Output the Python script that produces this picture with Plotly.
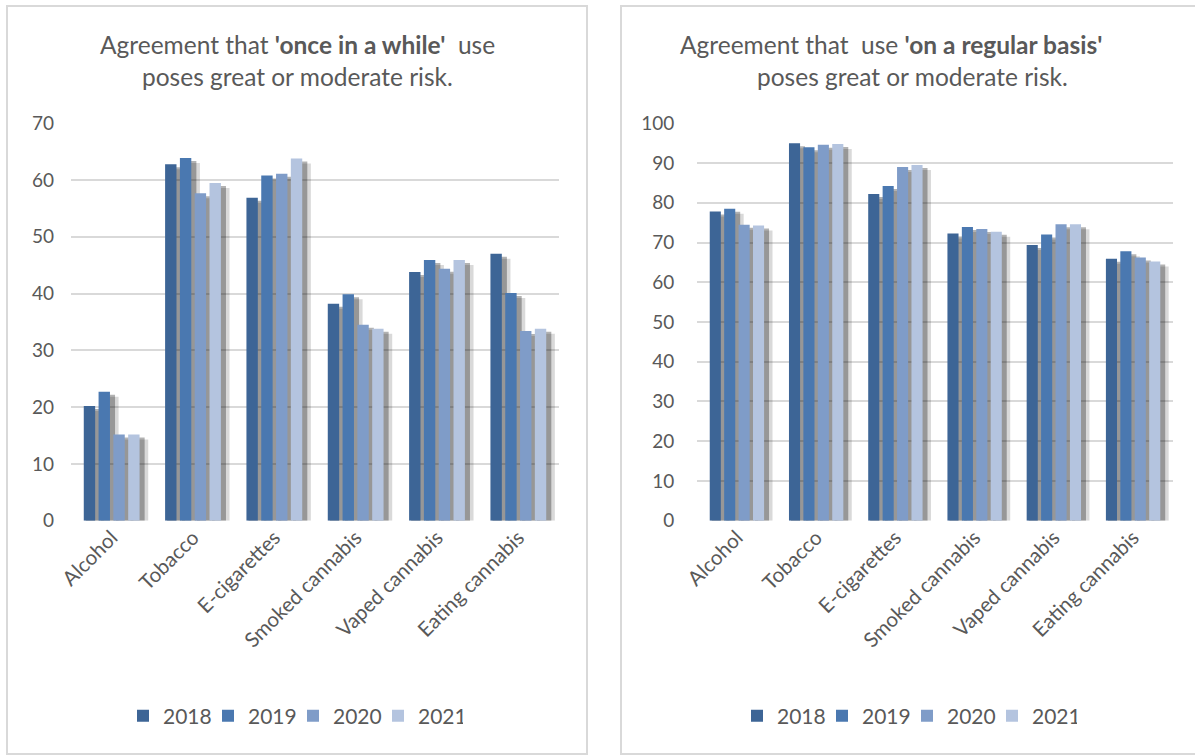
import plotly.graph_objects as go

# ---- data -------------------------------------------------------------
categories = ["Alcohol", "Tobacco", "E-cigarettes", "Smoked cannabis",
              "Vaped cannabis", "Eating cannabis"]
years = ["2018", "2019", "2020", "2021"]

# agreement that 'once in a while' use poses great or moderate risk (%)
once_2018 = [20.2, 62.8, 56.9, 38.2, 43.8, 47.0]
once_2019 = [22.7, 63.9, 60.8, 39.9, 45.9, 40.1]
once_2020 = [15.2, 57.7, 61.1, 34.5, 44.4, 33.4]
once_2021 = [15.2, 59.5, 63.8, 33.8, 45.9, 33.8]

# agreement that use 'on a regular basis' poses great or moderate risk (%)
regular_2018 = [77.8, 95.0, 82.2, 72.3, 69.4, 65.9]
regular_2019 = [78.5, 94.0, 84.2, 73.9, 72.0, 67.8]
regular_2020 = [74.5, 94.6, 89.0, 73.4, 74.6, 66.2]
regular_2021 = [74.3, 94.8, 89.5, 72.7, 74.6, 65.2]

once_ticks = [0, 10, 20, 30, 40, 50, 60, 70]
regular_ticks = [0, 10, 20, 30, 40, 50, 60, 70, 80, 90, 100]

# ---- styling ----------------------------------------------------------
W, H = 1195, 755
FONT = "Lato"
TEXT = "#595959"
GRID = "#D9D9D9"
colors = ["#3D6596", "#4A78B0", "#7F9CC8", "#B4C4DF"]

BAR_W = 0.14      # bar width in category units
PITCH = 0.182     # distance between neighbouring bars of a group
START = -(3 * PITCH + BAR_W) / 2
CAT_PX = 80.0     # approx. pixels per category, used for the shadow offsets


def px(x):
    return x / W


def py(y):
    return 1 - y / H


fig = go.Figure()


def add_panel(series, xa, ya, legend, unit_px):
    """Bars with a soft drop shadow; unit_px = pixels per value unit."""
    # shadows first so every bar sits above all of them
    for k, vals in enumerate(series):
        off = START + k * PITCH
        fig.add_trace(go.Bar(
            x=categories, y=[v - 5 / unit_px for v in vals],
            offset=off + 2 / CAT_PX, width=BAR_W + 6.5 / CAT_PX,
            marker=dict(color="rgba(0,0,0,0.15)", line_width=0),
            xaxis=xa, yaxis=ya, showlegend=False, hoverinfo="skip"))
        fig.add_trace(go.Bar(
            x=categories, y=[v - 3 / unit_px for v in vals],
            offset=off + 2 / CAT_PX, width=BAR_W + 3 / CAT_PX,
            marker=dict(color="rgba(0,0,0,0.3)", line_width=0),
            xaxis=xa, yaxis=ya, showlegend=False, hoverinfo="skip"))
    for k, vals in enumerate(series):
        fig.add_trace(go.Bar(
            x=categories, y=vals, name=years[k], offset=START + k * PITCH,
            width=BAR_W, marker=dict(color=colors[k], line_width=0),
            xaxis=xa, yaxis=ya, legend=legend))
    # empty, transparent entry that leaves room after the last legend label
    fig.add_trace(go.Bar(
        x=[], y=[], name=" ", marker=dict(color="rgba(0,0,0,0)"),
        xaxis=xa, yaxis=ya, legend=legend, hoverinfo="skip"))


add_panel([once_2018, once_2019, once_2020, once_2021], "x", "y", "legend",
          (520.7 - 123.3) / 70)
add_panel([regular_2018, regular_2019, regular_2020, regular_2021], "x2", "y2",
          "legend2", (520.7 - 123.3) / 100)

ydom = [py(520.7), py(123.3)]
num_font = dict(family=FONT, size=19, color=TEXT)
cat_font = dict(family=FONT, size=20.5, color=TEXT)
legend_font = dict(family=FONT, size=21, color=TEXT)

fig.update_layout(
    width=W, height=H,
    margin=dict(l=0, r=0, t=0, b=0, autoexpand=False),
    paper_bgcolor="white", plot_bgcolor="white",
    barmode="overlay",
    font=dict(family=FONT, color=TEXT),
    xaxis=dict(domain=[px(71), px(559)], anchor="y", tickangle=-45,
               tickfont=cat_font, showgrid=False, showline=False,
               zeroline=False, ticks=""),
    yaxis=dict(domain=ydom, anchor="x", range=[0, 70], tickvals=once_ticks,
               tickfont=num_font, showgrid=True, gridcolor=GRID, gridwidth=1.6,
               zeroline=False, showline=False, ticks="", ticklabelstandoff=16),
    xaxis2=dict(domain=[px(697.3), px(1172.7)], anchor="y2", tickangle=-45,
                tickfont=cat_font, showgrid=False, showline=False,
                zeroline=False, ticks=""),
    yaxis2=dict(domain=ydom, anchor="x2", range=[0, 100], tickvals=regular_ticks,
                tickfont=num_font, showgrid=True, gridcolor=GRID, gridwidth=1.6,
                zeroline=False, showline=False, ticks="", ticklabelstandoff=22),
    legend=dict(orientation="h", x=px(293), y=py(716), xanchor="center",
                yanchor="middle", font=legend_font, bgcolor="rgba(0,0,0,0)",
                itemwidth=30, entrywidth=40, traceorder="normal"),
    legend2=dict(orientation="h", x=px(907), y=py(716), xanchor="center",
                 yanchor="middle", font=legend_font, bgcolor="rgba(0,0,0,0)",
                 itemwidth=30, entrywidth=40, traceorder="normal"),
    showlegend=True,
)

# panel frames
for x0, x1 in [(7, 587), (621, 1200)]:
    fig.add_shape(type="rect", xref="paper", yref="paper",
                  x0=px(x0), x1=px(x1), y0=py(754), y1=py(6),
                  line=dict(color=GRID, width=2), fillcolor="rgba(0,0,0,0)",
                  layer="below")

# panel titles
title_font = dict(family=FONT, size=24.5, color=TEXT)
titles = [
    ("Agreement that <b>'once in a while'</b>  use", 297, 45),
    ("poses great or moderate risk.", 297, 76),
    ("Agreement that  use <b>'on a regular basis'</b>", 891, 45),
    ("poses great or moderate risk.", 912, 76),
]
for text, cx, cy in titles:
    fig.add_annotation(text=text, xref="paper", yref="paper", x=px(cx), y=py(cy),
                       xanchor="center", yanchor="middle", showarrow=False,
                       font=title_font)

fig.write_html("out.html")
